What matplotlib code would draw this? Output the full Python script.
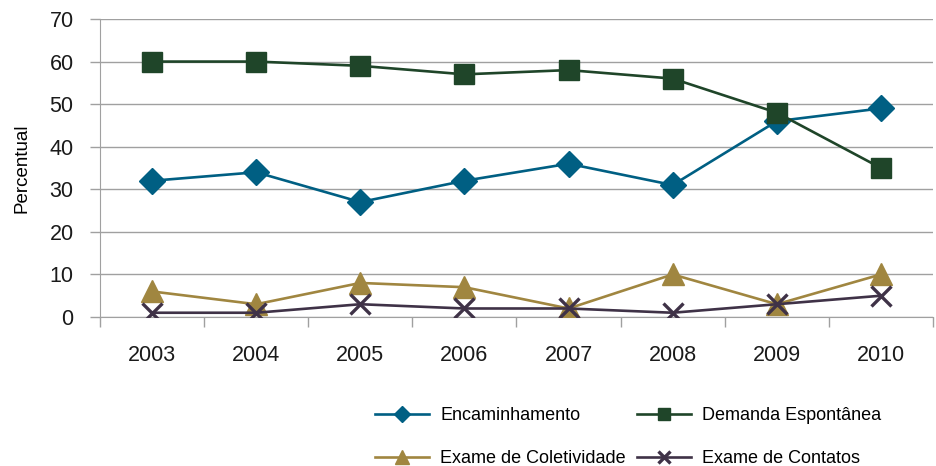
import matplotlib
matplotlib.use("Agg")
import matplotlib.pyplot as plt
import numpy as np

years = ["2003", "2004", "2005", "2006", "2007", "2008", "2009", "2010"]
encaminhamento = [32, 34, 27, 32, 36, 31, 46, 49]
demanda = [60, 60, 59, 57, 58, 56, 48, 35]
coletividade = [6, 3, 8, 7, 2, 10, 3, 10]
contatos = [1, 1, 3, 2, 2, 1, 3, 5]

plt.rcParams['font.family'] = ['Liberation Sans', 'DejaVu Sans']

fig = plt.figure(figsize=(9.37, 4.66), dpi=100)
ax = fig.add_axes([100 / 937, 1 - 317 / 466, 833 / 937, 298 / 466])

x = np.arange(len(years))
h1, = ax.plot(x, encaminhamento, color='#005f83', lw=1.9, marker='D', ms=13,
              label='Encaminhamento', zorder=3)
h2, = ax.plot(x, demanda, color='#1f4529', lw=1.9, marker='s', ms=14,
              label='Demanda Espontânea', zorder=3)
h3, = ax.plot(x, coletividade, color='#a08640', lw=1.9, marker='^', ms=16,
              label='Exame de Coletividade', zorder=3)
h4, = ax.plot(x, contatos, color='#3f3247', lw=1.9, marker='x', ms=14, mew=2.4,
              label='Exame de Contatos', zorder=4)

ax.set_xlim(-0.5, len(years) - 0.5)
ax.set_ylim(0, 70)
ax.set_yticks(range(0, 71, 10))
ax.set_xticks(x)
ax.set_xticklabels(years)
ax.set_xticks(np.arange(-0.5, len(years), 1), minor=True)
ax.tick_params(axis='x', which='major', length=0, pad=20, labelsize=15.5,
               labelcolor='#1a1a1a')
ax.tick_params(axis='x', which='minor', length=7, color='#a0a0a0', width=1)
ax.tick_params(axis='y', length=7, color='#a0a0a0', width=1, labelsize=15.5,
               labelcolor='#1a1a1a', pad=12)
ax.grid(axis='y', color='#a0a0a0', lw=1)
ax.set_axisbelow(True)
for s in ['top', 'right']:
    ax.spines[s].set_visible(False)
ax.spines['left'].set_color('#a0a0a0')
ax.spines['bottom'].set_color('#a0a0a0')
ax.set_ylabel('Percentual', fontsize=13.5, labelpad=14)

# row-wise order: matplotlib fills columns first
order = [h1, h3, h2, h4]
fig.legend(order, [h.get_label() for h in order],
           loc='upper left', bbox_to_anchor=(368 / 937, 1 - 400 / 466), ncol=2,
           frameon=False, fontsize=13, markerscale=0.6, handlelength=3.0,
           columnspacing=0.6, handletextpad=0.6, labelspacing=1.45,
           borderaxespad=0)

fig.savefig('out.png', dpi=100)
